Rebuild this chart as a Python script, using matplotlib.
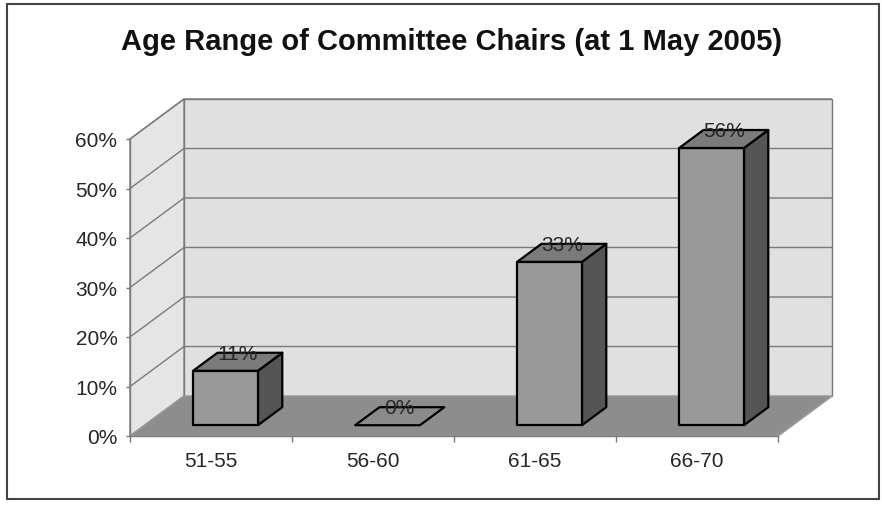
import matplotlib
matplotlib.use("Agg")
import matplotlib.pyplot as plt
from matplotlib.patches import Polygon, Rectangle
from matplotlib.ticker import FixedLocator, FuncFormatter

plt.rcParams['font.family'] = ['Liberation Sans', 'DejaVu Sans']

# ---- data ----
title = "Age Range of Committee Chairs (at 1 May 2005)"
categories = ["51-55", "56-60", "61-65", "66-70"]
values = [11, 0, 33, 56]          # percent
labels = ["11%", "0%", "33%", "56%"]
y_ticks = [0, 10, 20, 30, 40, 50, 60]

# ---- style / geometry ----
W, H, DPI = 882, 506, 100
fig = plt.figure(figsize=(W / DPI, H / DPI), dpi=DPI)
fig.patch.set_facecolor("white")

# front plane of the 3-D box (pixels)
left_px, right_px, bottom_px, top_px = 130, 778, 437, 140
ax = fig.add_axes([left_px / W, 1 - bottom_px / H,
                   (right_px - left_px) / W, (bottom_px - top_px) / H])
n = len(categories)
ymax = y_ticks[-1]
ax.set_xlim(0, n)
ax.set_ylim(0, ymax)
ax.patch.set_alpha(0)

# depth offset in data units (from pixel offsets)
px_x = (right_px - left_px) / n          # px per category
px_y = (bottom_px - top_px) / ymax       # px per percent
DX = 54 / px_x
DY = 40 / px_y

grid_c = "#7a7a7a"
wall_c = "#e0e0e0"
floor_c = "#8d8d8d"
txt_c = "#262626"
fs = 15

# back wall
ax.add_patch(Polygon([(DX, DY), (n + DX, DY), (n + DX, ymax + DY), (DX, ymax + DY)],
                     closed=True, facecolor=wall_c, edgecolor=grid_c, lw=1,
                     clip_on=False, zorder=1))
# side wall
ax.add_patch(Polygon([(0, 0), (DX, DY), (DX, ymax + DY), (0, ymax)],
                     closed=True, facecolor="#e5e5e5", edgecolor=grid_c, lw=1,
                     clip_on=False, zorder=1))
# floor
ax.add_patch(Polygon([(0, 0), (n, 0), (n + DX, DY), (DX, DY)],
                     closed=True, facecolor=floor_c, edgecolor="#9a9a9a", lw=1,
                     clip_on=False, zorder=2))
# gridlines on walls
for t in y_ticks[1:]:
    ax.plot([0, DX, n + DX], [t, t + DY, t + DY], color=grid_c, lw=1,
            clip_on=False, zorder=1.5, solid_capstyle="butt")

# bars
hw = 0.2
d0, d1 = 0.27, 0.72
front_c, top_c, side_c = "#999999", "#7b7b7b", "#555555"
for i, v in enumerate(values):
    cx = i + 0.5
    fx0, fx1 = cx - hw + d0 * DX, cx + hw + d0 * DX
    fy0 = d0 * DY
    bx0, bx1 = cx - hw + d1 * DX, cx + hw + d1 * DX
    by0 = d1 * DY
    z = 5 + i
    if v > 0:
        ax.add_patch(Polygon([(fx1, fy0), (bx1, by0), (bx1, by0 + v), (fx1, fy0 + v)],
                             closed=True, facecolor=side_c, edgecolor="black",
                             lw=1.6, clip_on=False, zorder=z, joinstyle="round"))
        ax.add_patch(Polygon([(fx0, fy0), (fx1, fy0), (fx1, fy0 + v), (fx0, fy0 + v)],
                             closed=True, facecolor=front_c, edgecolor="black",
                             lw=1.6, clip_on=False, zorder=z, joinstyle="round"))
    ax.add_patch(Polygon([(fx0, fy0 + v), (fx1, fy0 + v), (bx1, by0 + v), (bx0, by0 + v)],
                         closed=True, facecolor=top_c if v > 0 else "#8a8a8a",
                         edgecolor="black", lw=1.6, clip_on=False, zorder=z,
                         joinstyle="round"))
    tx = cx + (d0 + d1) / 2 * DX
    ty = (d0 + d1) / 2 * DY + v
    ax.annotate(labels[i], (tx, ty), xytext=(0, 6), textcoords="offset points",
                ha="center", va="center", fontsize=fs, color=txt_c,
                zorder=20, annotation_clip=False)

# axes lines
for s in ["top", "right"]:
    ax.spines[s].set_visible(False)
for s in ["left", "bottom"]:
    ax.spines[s].set_color(grid_c)
    ax.spines[s].set_linewidth(1)
    ax.spines[s].set_zorder(3)
ax.plot([n, n + DX], [0, DY], color="#9a9a9a", lw=1, clip_on=False, zorder=2)

ax.yaxis.set_major_locator(FixedLocator(y_ticks))
ax.yaxis.set_major_formatter(FuncFormatter(lambda v, p: f"{int(v)}%"))
ax.tick_params(axis="y", length=3, width=1, color=grid_c, pad=6,
               labelsize=fs, labelcolor=txt_c)
ax.xaxis.set_major_locator(FixedLocator(range(n + 1)))
ax.xaxis.set_major_formatter(FuncFormatter(lambda v, p: ""))
ax.xaxis.set_minor_locator(FixedLocator([i + 0.5 for i in range(n)]))
ax.set_xticklabels(categories, minor=True)
ax.tick_params(axis="x", which="major", length=4, width=1, color=grid_c)
ax.tick_params(axis="x", which="minor", length=0, pad=11, labelsize=fs,
               labelcolor=txt_c)

# title
fig.text(452 / W, 1 - 42 / H, title, ha="center", va="center",
         fontsize=21, fontweight="bold", color="#111111")

# outer border
fig.patches.append(Rectangle((7 / W, 1 - 500 / H), (879 - 7) / W, (500 - 5) / H,
                             transform=fig.transFigure, fill=False,
                             edgecolor="#444444", lw=1.5))

fig.savefig("out.png", dpi=DPI)
